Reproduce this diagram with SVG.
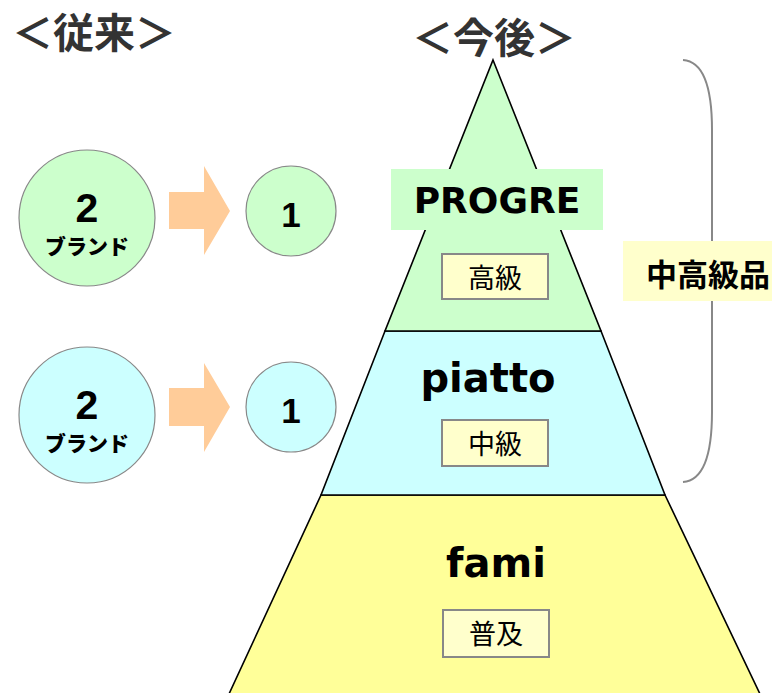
<svg xmlns="http://www.w3.org/2000/svg" width="772" height="693" viewBox="0 0 772 693">
<style>
.hdr{font-family:"Noto Sans CJK JP","Noto Sans",sans-serif;font-weight:bold;font-size:41px;fill:#333333}
.seg{stroke:#000;stroke-width:1.6}
.circ{stroke:#888;stroke-width:1.2}
.num{font-family:"Liberation Sans",Arial,sans-serif;font-weight:bold;fill:#000;text-anchor:middle}
.brand{font-family:"Noto Sans CJK JP",sans-serif;font-weight:900;font-size:21px;fill:#000;text-anchor:middle}
.arrow{fill:#FFCC99}
.name{font-family:"DejaVu Sans",Verdana,sans-serif;font-weight:bold;font-size:40px;fill:#000;text-anchor:middle}
.tag{fill:#FFFFCC;stroke:#888;stroke-width:2}
.tagt{font-family:"Noto Sans CJK JP",sans-serif;font-size:27px;fill:#000;text-anchor:middle}
</style>
<g id="headers">
<text class="hdr" x="12" y="48">＜従来＞</text>
<text class="hdr" x="412" y="53">＜今後＞</text>
</g>
<g id="fami-tier">
<polygon class="seg" fill="#FFFF99" points="321,495 665,495 760,694 229,694"/>
<text class="name" x="496" y="577">fami</text>
<rect class="tag" x="443" y="610" width="106" height="47"/>
<text class="tagt" x="496" y="644">普及</text>
</g>
<g id="piatto-tier">
<polygon class="seg" fill="#CCFFFF" points="385,331 601,331 665,495 321,495"/>
<text class="name" x="488" y="392">piatto</text>
<rect class="tag" x="442" y="420" width="106" height="46"/>
<text class="tagt" x="495" y="454">中級</text>
</g>
<g id="progre-tier">
<polygon class="seg" fill="#CCFFCC" points="493,60 601,331 385,331"/>
<rect x="391" y="169" width="212" height="61" fill="#CCFFCC"/>
<text class="name" x="497" y="213" style="font-size:36px">PROGRE</text>
<rect class="tag" x="442" y="254" width="106" height="45"/>
<text class="tagt" x="495" y="288">高級</text>
</g>
<g id="connectors">
<path d="M683,60 Q712,62 712,130 L712,412 Q712,480 683,482" fill="none" stroke="#888" stroke-width="2"/>
<polygon class="arrow" points="169,192 204,192 204,166 230,211 204,255 204,229 169,229"/>
<polygon class="arrow" points="169,388 204,388 204,363 230,407 204,452 204,426 169,426"/>
</g>
<g id="mid-high-label">
<rect x="623" y="241" width="152" height="60" fill="#FFFFCC"/>
<text x="646" y="286" font-family="Noto Sans CJK JP,sans-serif" font-weight="bold" font-size="31" fill="#000">中高級品</text>
</g>
<g id="old-green-2">
<circle class="circ" cx="87" cy="218" r="68" fill="#CCFFCC"/>
<text class="num" x="87" y="222" font-size="41">2</text>
<text class="brand" x="87" y="254">ブランド</text>
</g>
<g id="new-green-1">
<circle class="circ" cx="291" cy="211" r="45" fill="#CCFFCC"/>
<text class="num" x="291" y="227" font-size="35">1</text>
</g>
<g id="old-cyan-2">
<circle class="circ" cx="87" cy="415" r="68" fill="#CCFFFF"/>
<text class="num" x="87" y="419" font-size="41">2</text>
<text class="brand" x="87" y="451">ブランド</text>
</g>
<g id="new-cyan-1">
<circle class="circ" cx="291" cy="407" r="45" fill="#CCFFFF"/>
<text class="num" x="291" y="423" font-size="35">1</text>
</g>
</svg>
